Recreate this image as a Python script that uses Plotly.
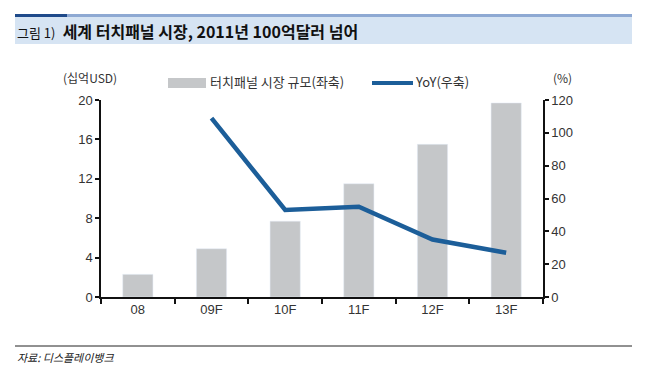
import plotly.graph_objects as go

categories = ["08", "09F", "10F", "11F", "12F", "13F"]
market_size = [2.3, 4.9, 7.7, 11.5, 15.5, 19.7]
yoy_x = ["09F", "10F", "11F", "12F", "13F"]
yoy = [109, 53, 55, 35, 27]

W, H = 658, 379
L, R, T, B = 101, 543, 100, 297

def px(x):
    return (x - L) / (R - L)

def py(y):
    return (B - y) / (B - T)

KFONT = "Noto Sans CJK KR"
NFONT = "Liberation Sans, Arial, sans-serif"
BAR_C = "#c5c7c9"
LINE_C = "#1c5e99"

fig = go.Figure()
fig.add_trace(go.Bar(x=categories, y=market_size, marker_color=BAR_C, width=0.41,
                     name="터치패널 시장 규모(좌축)", yaxis="y"))
fig.add_trace(go.Scatter(x=yoy_x, y=yoy, mode="lines", line=dict(color=LINE_C, width=4.5),
                         name="YoY(우축)", yaxis="y2"))

shapes = [
    # title band
    dict(type="rect", xref="paper", yref="paper", x0=px(15), x1=px(632), y0=py(44), y1=py(17),
         fillcolor="#d6e4f3", line_width=0, layer="below"),
    dict(type="rect", xref="paper", yref="paper", x0=px(15), x1=px(67), y0=py(17), y1=py(14),
         fillcolor="#1f4a8a", line_width=0),
    dict(type="rect", xref="paper", yref="paper", x0=px(67), x1=px(632), y0=py(17), y1=py(14),
         fillcolor="#8ea9d3", line_width=0),
    # bottom rule
    dict(type="line", xref="paper", yref="paper", x0=px(15), x1=px(632), y0=py(346), y1=py(346),
         line=dict(color="#222222", width=1)),
    # legend swatches
    dict(type="rect", xref="paper", yref="paper", x0=px(168), x1=px(206), y0=py(88), y1=py(78),
         fillcolor=BAR_C, line_width=0),
    dict(type="line", xref="paper", yref="paper", x0=px(372), x1=px(413), y0=py(83), y1=py(83),
         line=dict(color=LINE_C, width=4)),
]

annotations = [
    dict(text="<span style='font-size:13px'>그림 1)</span>  <b>세계 터치패널 시장, 2011년 100억달러 넘어</b>",
         x=px(15), y=py(31),
         xref="paper", yref="paper", xanchor="left", yanchor="middle", showarrow=False,
         font=dict(family=KFONT, size=16, color="#111111")),
    dict(text="(십억USD)", x=px(90), y=py(77), xref="paper", yref="paper",
         xanchor="center", yanchor="middle", showarrow=False,
         font=dict(family=KFONT, size=12, color="#333333")),
    dict(text="(%)", x=px(562), y=py(77), xref="paper", yref="paper",
         xanchor="center", yanchor="middle", showarrow=False,
         font=dict(family=KFONT, size=12, color="#333333")),
    dict(text="터치패널 시장 규모(좌축)", x=px(208), y=py(82), xref="paper", yref="paper",
         xanchor="left", yanchor="middle", showarrow=False,
         font=dict(family=KFONT, size=13, color="#333333")),
    dict(text="YoY(우축)", x=px(413), y=py(82), xref="paper", yref="paper",
         xanchor="left", yanchor="middle", showarrow=False,
         font=dict(family=KFONT, size=13, color="#333333")),
    dict(text="<i>자료: 디스플레이뱅크</i>", x=px(15), y=py(357), xref="paper", yref="paper",
         xanchor="left", yanchor="middle", showarrow=False,
         font=dict(family=KFONT, size=11, color="#222222")),
]

tickfont = dict(family=NFONT, size=13, color="#333333")

fig.update_layout(
    width=W, height=H,
    margin=dict(l=L, r=W - R, t=T, b=H - B, pad=0),
    paper_bgcolor="white", plot_bgcolor="white",
    showlegend=False,
    shapes=shapes, annotations=annotations,
    xaxis=dict(type="category", range=[-0.5, 5.5], showline=True, linecolor="#111111", linewidth=1.5,
               ticks="outside", tickson="boundaries", ticklen=5, tickcolor="#111111", tickwidth=1.5,
               showgrid=False, tickfont=tickfont, zeroline=False),
    yaxis=dict(range=[0, 20], dtick=4, showline=True, linecolor="#111111", linewidth=1.5,
               ticks="outside", ticklen=4, tickcolor="#111111", tickwidth=1.5,
               showgrid=False, zeroline=False, tickfont=tickfont),
    yaxis2=dict(range=[0, 120], dtick=20, overlaying="y", side="right", showline=True,
                linecolor="#111111", linewidth=1.5, ticks="outside", ticklen=4,
                tickcolor="#111111", tickwidth=1.5, showgrid=False, zeroline=False,
                tickfont=tickfont),
)

fig.write_html("out.html", config={"displayModeBar": False},
               post_script="document.body.style.margin='0';")
